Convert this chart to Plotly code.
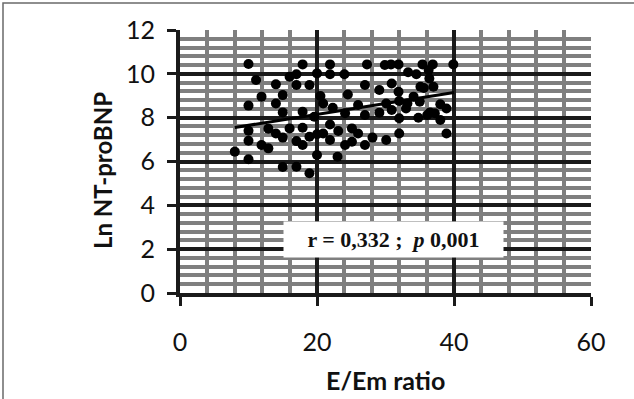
import plotly.graph_objects as go

# E/Em ratio vs Ln NT-proBNP
e_em = [8.0, 10.0, 10.0, 10.0, 10.0, 10.0, 11.1, 11.9, 11.9, 12.9, 12.9,
        14.0, 14.0, 14.0, 15.0, 15.0, 15.0, 15.0, 16.0, 16.0,
        17.0, 17.0, 17.0, 17.0, 17.9, 17.9, 17.9, 17.9,
        18.9, 18.9, 18.9, 19.6, 20.0, 20.0, 20.0, 20.5, 20.9, 20.9,
        21.9, 21.9, 21.9, 21.9, 22.3, 23.1, 23.0, 24.0, 24.1, 24.1, 24.5,
        25.1, 25.1, 26.0, 26.0, 27.0, 27.3, 27.0, 27.0, 28.1, 29.1, 29.1,
        29.9, 30.1, 30.1, 30.8, 30.9, 30.9, 31.9, 31.9, 32.0, 32.0, 32.0,
        33.0, 33.3, 33.2, 34.1, 34.5, 34.8, 35.0, 35.1, 35.4, 35.6,
        36.1, 36.3, 36.4, 36.5, 36.9, 37.0, 37.2, 38.0, 38.0, 38.9, 38.9, 39.9]
ln_ntprobnp = [6.45, 10.45, 8.55, 7.4, 6.95, 6.1, 9.72, 8.96, 6.75, 7.5, 6.6,
               9.52, 8.65, 7.28, 9.03, 8.24, 7.09, 5.75, 9.87, 7.51,
               9.98, 9.49, 6.93, 5.76, 10.43, 8.27, 7.54, 6.75,
               9.49, 7.13, 5.46, 8.04, 10.02, 7.24, 6.3, 8.99, 8.65, 7.28,
               10.43, 9.98, 7.69, 6.98, 8.45, 7.39, 6.22, 9.98, 8.2, 6.75, 9.06,
               7.51, 6.9, 8.58, 7.28, 9.49, 10.43, 8.12, 6.75, 7.09, 9.26, 8.23,
               10.4, 8.65, 6.98, 10.43, 9.56, 8.35, 10.43, 9.18, 8.76, 7.97, 7.28,
               8.42, 10.07, 8.65, 8.96, 9.98, 8.0, 8.73, 9.41, 10.43, 9.35,
               8.12, 10.17, 9.79, 8.24, 10.43, 9.41, 8.2, 8.61, 7.89, 8.42, 7.28, 10.43]

trend_x = [8.0, 40.0]
trend_y = [7.55, 9.15]

x_ticks = [0, 20, 40, 60]
y_ticks = [0, 2, 4, 6, 8, 10, 12]

fig = go.Figure()
fig.add_trace(go.Scatter(x=e_em, y=ln_ntprobnp, mode="markers",
                         marker=dict(color="black", size=10), showlegend=False))
fig.add_trace(go.Scatter(x=trend_x, y=trend_y, mode="lines",
                         line=dict(color="black", width=3), showlegend=False))

tickfont = dict(family="Lato, sans-serif", size=25, color="#111111")
fig.update_layout(
    width=634, height=399,
    margin=dict(l=180, r=43, t=30, b=106),
    paper_bgcolor="white", plot_bgcolor="white",
    xaxis=dict(range=[0, 60], tickvals=x_ticks, showgrid=True, gridcolor="#1a1a1a", gridwidth=4,
               minor=dict(dtick=4, tick0=0, showgrid=True, gridcolor="#7f7f7f", gridwidth=4),
               showline=True, linecolor="#1a1a1a", linewidth=4, zeroline=False,
               ticks="outside", ticklen=9, tickwidth=3, tickcolor="#1a1a1a",
               ticklabelstandoff=15, tickfont=tickfont, fixedrange=True),
    yaxis=dict(range=[0, 12], tickvals=y_ticks, showgrid=True, gridcolor="#1a1a1a", gridwidth=4,
               minor=dict(dtick=0.4, tick0=0, showgrid=True, gridcolor="#7f7f7f", gridwidth=4),
               showline=True, linecolor="#1a1a1a", linewidth=4, zeroline=False,
               ticks="outside", ticklen=9, tickwidth=3, tickcolor="#1a1a1a",
               ticklabelstandoff=7, tickfont=tickfont, fixedrange=True),
    shapes=[dict(type="rect", xref="paper", yref="paper",
                 x0=(3 - 180) / 411, x1=1.2, y0=-0.5, y1=(293 - 3) / 263,
                 line=dict(color="#6a6a6a", width=1.5), fillcolor="rgba(0,0,0,0)", layer="below")],
    annotations=[
        dict(xref="paper", yref="paper", x=(102 - 180) / 411, y=(293 - 171) / 263,
             xanchor="center", yanchor="middle",
             text="<b>Ln NT-proBNP</b>", textangle=-90, showarrow=False,
             font=dict(family="Lato, sans-serif", size=24, color="#111111")),
        dict(xref="paper", yref="paper", x=0.5, y=(293 - 380) / 263,
             xanchor="center", yanchor="middle",
             text="<b>E/Em ratio</b>", showarrow=False,
             font=dict(family="Lato, sans-serif", size=25, color="#111111")),
        dict(xref="paper", yref="paper", x=(393.5 - 180) / 411, y=(293 - 239) / 263,
             xanchor="center", yanchor="middle",
             text="<b>r = 0,332 ;  <i>p</i> 0,001</b>", showarrow=False,
             width=217, height=33, bgcolor="white",
             font=dict(family="Liberation Serif, serif", size=22, color="#111111")),
    ],
)

fig.write_html("out.html", post_script="document.body.style.margin='0';",
               config={"displayModeBar": False})
